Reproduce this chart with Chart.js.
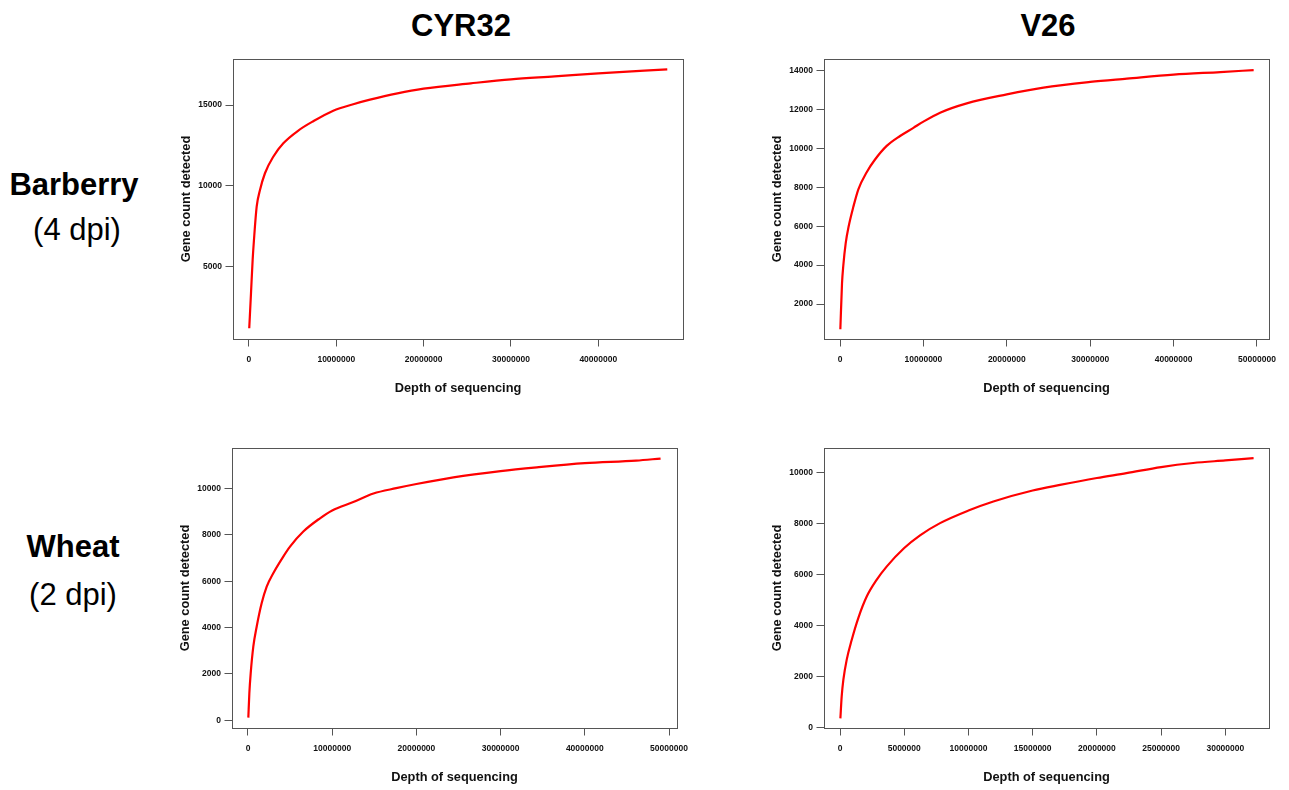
<!DOCTYPE html>
<html>
<head>
<meta charset="utf-8">
<script src="https://cdn.jsdelivr.net/npm/chart.js@4/dist/chart.umd.min.js"></script>
<style>
  html, body { margin: 0; padding: 0; background: #fff; }
  body { width: 1289px; height: 790px; position: relative; overflow: hidden; font-family: "Liberation Sans", Arial, Helvetica, sans-serif; }
  .hdr { position: absolute; width: 240px; text-align: center; font-size: 31px; line-height: 31px; color: #000; white-space: nowrap; }
  .b { font-weight: bold; }
  .panel { position: absolute; }
</style>
</head>
<body>
<div class="hdr b" style="left:341px; top:9.5px;">CYR32</div>
<div class="hdr b" style="left:928px; top:9.5px;">V26</div>
<div class="hdr b" style="left:-46px; top:169px;">Barberry</div>
<div class="hdr" style="left:-43px; top:214px;">(4 dpi)</div>
<div class="hdr b" style="left:-47px; top:531px;">Wheat</div>
<div class="hdr" style="left:-47px; top:579px;">(2 dpi)</div>

<div class="panel" id="p1"><canvas id="c1"></canvas></div>
<div class="panel" id="p2"><canvas id="c2"></canvas></div>
<div class="panel" id="p3"><canvas id="c3"></canvas></div>
<div class="panel" id="p4"><canvas id="c4"></canvas></div>

<script>
// ---------- Data ----------
// Barberry (4 dpi), CYR32
const barberryCYR32Depth = [30000, 230000, 420000, 570000, 880000, 1260000, 1830000, 2780000, 3930000, 5650000, 7370000, 9650000, 11940000, 13860000, 17000000, 20000000, 25400000, 30000000, 35000000, 40000000, 47900000];
const barberryCYR32Genes = [1190, 3350, 5420, 6650, 8710, 9740, 10780, 11800, 12630, 13420, 14000, 14650, 15050, 15330, 15720, 16010, 16340, 16590, 16770, 16960, 17200];

// Barberry (4 dpi), V26
const barberryV26Depth = [40000, 240000, 400000, 680000, 1040000, 1600000, 2200000, 3200000, 4200000, 5600000, 7200000, 8800000, 10000000, 12000000, 15200000, 20000000, 24400000, 30000000, 34400000, 40000000, 45600000, 49600000];
const barberryV26Genes = [700, 3060, 4000, 5120, 6000, 7000, 7900, 8780, 9430, 10130, 10640, 11060, 11380, 11840, 12320, 12780, 13130, 13420, 13590, 13800, 13930, 14030];

// Wheat (2 dpi), CYR32
const wheatCYR32Depth = [40000, 160000, 320000, 630000, 1030000, 1620000, 2220000, 3000000, 4190000, 4990000, 6570000, 8550000, 10000000, 12500000, 14900000, 17600000, 20000000, 24400000, 30000000, 34300000, 40000000, 46100000, 49000000];
const wheatCYR32Genes = [115, 1170, 2030, 3180, 4040, 5050, 5770, 6350, 7070, 7500, 8150, 8720, 9060, 9420, 9790, 10020, 10200, 10490, 10760, 10920, 11100, 11210, 11300];

// Wheat (2 dpi), V26
const wheatV26Depth = [30000, 130000, 260000, 520000, 910000, 1430000, 2080000, 2850000, 3630000, 5000000, 6230000, 7790000, 10000000, 11940000, 15000000, 17130000, 20000000, 22300000, 25000000, 27500000, 30000000, 32200000];
const wheatV26Genes = [354, 1205, 1860, 2650, 3430, 4300, 5135, 5790, 6310, 7040, 7540, 8020, 8515, 8870, 9300, 9520, 9790, 9980, 10220, 10380, 10480, 10570];

// Tick labels
const xTicks50M = [0, 10000000, 20000000, 30000000, 40000000, 50000000];
const xTicks40M = [0, 10000000, 20000000, 30000000, 40000000];
const xTicks30M = [0, 5000000, 10000000, 15000000, 20000000, 25000000, 30000000];
const yTicksBarberryCYR32 = [5000, 10000, 15000];
const yTicksBarberryV26 = [2000, 4000, 6000, 8000, 10000, 12000, 14000];
const yTicksWheat = [0, 2000, 4000, 6000, 8000, 10000];

const xTitle = "Depth of sequencing";
const yTitle = "Gene count detected";

// ---------- Layout ----------
const FONT = '"Liberation Sans", Arial, Helvetica, sans-serif';
const AXIS_W = 70, AXIS_H = 60, PAD_T = 10, PAD_R = 20;

const panels = [
  { id: 'c1', box: [233, 59, 683, 339], depth: barberryCYR32Depth, genes: barberryCYR32Genes,
    xTicks: xTicks40M, yTicks: yTicksBarberryCYR32, xr: [-1830000, 49700000], yr: [529, 17845] },
  { id: 'c2', box: [824, 59, 1269, 339], depth: barberryV26Depth, genes: barberryV26Genes,
    xTicks: xTicks50M, yTicks: yTicksBarberryV26, xr: [-1920000, 51440000], yr: [200, 14600] },
  { id: 'c3', box: [232, 448, 677, 728], depth: wheatCYR32Depth, genes: wheatCYR32Genes,
    xTicks: xTicks50M, yTicks: yTicksWheat, xr: [-1900000, 50950000], yr: [-331, 11755] },
  { id: 'c4', box: [824, 448, 1269, 728], depth: wheatV26Depth, genes: wheatV26Genes,
    xTicks: xTicks30M, yTicks: yTicksWheat, xr: [-1246000, 33400000], yr: [-26, 10969] },
];

const boxPlugin = {
  id: 'rbox',
  afterDraw(chart) {
    const a = chart.chartArea, ctx = chart.ctx;
    ctx.save();
    ctx.strokeStyle = '#555';
    ctx.lineWidth = 1;
    ctx.strokeRect(Math.round(a.left) + 0.5, Math.round(a.top) + 0.5,
                   Math.round(a.right - a.left), Math.round(a.bottom - a.top));
    ctx.restore();
  }
};

panels.forEach(p => {
  const [L, T, R, B] = p.box;
  const W = (R - L) + AXIS_W + PAD_R;
  const H = (B - T) + AXIS_H + PAD_T;
  const div = document.getElementById('p' + p.id.slice(1));
  div.style.left = (L - AXIS_W) + 'px';
  div.style.top = (T - PAD_T) + 'px';
  div.style.width = W + 'px';
  div.style.height = H + 'px';
  const cv = document.getElementById(p.id);
  cv.width = W; cv.height = H;
  cv.style.width = W + 'px'; cv.style.height = H + 'px';

  const pts = p.depth.map((d, i) => ({ x: d, y: p.genes[i] }));

  new Chart(cv, {
    type: 'line',
    data: {
      datasets: [{
        data: pts,
        borderColor: '#ff0000',
        borderWidth: 2.2,
        pointRadius: 0,
        fill: false,
        cubicInterpolationMode: 'monotone'
      }]
    },
    options: {
      responsive: false,
      animation: false,
      devicePixelRatio: 1,
      layout: { padding: { left: 0, top: PAD_T, right: PAD_R, bottom: 0 } },
      plugins: { legend: { display: false }, tooltip: { enabled: false }, title: { display: false } },
      scales: {
        x: {
          type: 'linear',
          min: p.xr[0], max: p.xr[1],
          afterBuildTicks: s => { s.ticks = p.xTicks.map(v => ({ value: v })); },
          afterFit: s => { s.height = AXIS_H; },
          grid: { drawOnChartArea: false, drawTicks: true, tickLength: 7.5, tickColor: '#555', tickWidth: 1 },
          border: { display: false },
          ticks: {
            autoSkip: false, maxRotation: 0, minRotation: 0, padding: 8.5,
            color: '#111', font: { family: FONT, size: 8.5, weight: 'bold' },
            callback: v => String(v)
          },
          title: { display: true, text: xTitle, color: '#111',
                   font: { family: FONT, size: 12.8, weight: 'bold' }, padding: { top: 0, bottom: 3.2 } }
        },
        y: {
          type: 'linear',
          min: p.yr[0], max: p.yr[1],
          afterBuildTicks: s => { s.ticks = p.yTicks.map(v => ({ value: v })); },
          afterFit: s => { s.width = AXIS_W; },
          grid: { drawOnChartArea: false, drawTicks: true, tickLength: 7.5, tickColor: '#555', tickWidth: 1 },
          border: { display: false },
          ticks: {
            autoSkip: false, padding: 3.5,
            color: '#111', font: { family: FONT, size: 8.5, weight: 'bold' },
            callback: v => String(v)
          },
          title: { display: true, text: yTitle, color: '#111',
                   font: { family: FONT, size: 12.8, weight: 'bold' }, padding: { top: 15.3, bottom: 0 } }
        }
      }
    },
    plugins: [boxPlugin]
  });
});
</script>
</body>
</html>
